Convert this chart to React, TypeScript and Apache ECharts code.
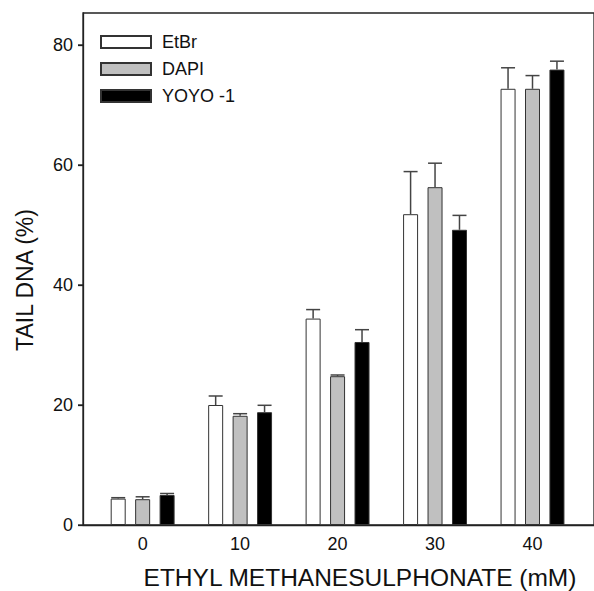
import React, { useEffect, useRef } from "react";
import * as echarts from "echarts";

const categories = [0, 10, 20, 30, 40];
const seriesNames = ["EtBr", "DAPI", "YOYO -1"];
const etbr = [4.4, 20.0, 34.4, 51.8, 72.7];
const etbrErr = [0.15, 1.5, 1.5, 7.1, 3.5];
const dapi = [4.3, 18.2, 24.8, 56.3, 72.7];
const dapiErr = [0.4, 0.35, 0.2, 4.0, 2.2];
const yoyo = [5.0, 18.8, 30.5, 49.2, 75.9];
const yoyoErr = [0.25, 1.15, 2.05, 2.4, 1.4];
const yTicks = [0, 20, 40, 60, 80];

const FONT = "'Liberation Sans', Arial, Helvetica, sans-serif";
const BAR_W = 15;
const BAR_GAP = 0.63;
const fills = ["#ffffff", "#c0c0c0", "#000000"];

export default function App() {
  const ref = useRef<HTMLDivElement>(null);
  useEffect(() => {
    if (!ref.current) return;
    const chart = echarts.init(ref.current, null, { renderer: "svg" });
    const values = [etbr, dapi, yoyo];
    const errs = [etbrErr, dapiErr, yoyoErr];
    const step = BAR_W * (1 + BAR_GAP);

    const barSeries = values.map((vals, i) => ({
      name: seriesNames[i],
      type: "bar",
      barWidth: BAR_W,
      barGap: BAR_GAP * 100 + "%",
      data: categories.map((c, j) => [c, vals[j]]),
      itemStyle: { color: fills[i], borderColor: "#333", borderWidth: 1 },
      z: 2,
    }));

    const errSeries = values.map((vals, i) => ({
      name: seriesNames[i] + " err",
      type: "custom",
      z: 3,
      data: categories.map((c, j) => [c, vals[j], errs[i][j]]),
      renderItem: (params: any, api: any) => {
        const x = api.value(0);
        const y = api.value(1);
        const e = api.value(2);
        const p0 = api.coord([x, y]);
        const p1 = api.coord([x, y + e]);
        const cx = p0[0] + (i - 1) * step;
        const half = 7;
        const style = { stroke: "#444", lineWidth: 1.5, fill: "none" };
        return {
          type: "group",
          children: [
            { type: "line", shape: { x1: cx, y1: p0[1], x2: cx, y2: p1[1] }, style },
            { type: "line", shape: { x1: cx - half, y1: p1[1], x2: cx + half, y2: p1[1] }, style },
          ],
        };
      },
    }));

    const tickSeries = {
      name: "y ticks",
      type: "custom",
      z: 4,
      clip: false,
      silent: true,
      data: yTicks.map((v) => [0, v]),
      renderItem: (params: any, api: any) => {
        const left = params.coordSys.x;
        const y = api.coord([0, api.value(1)])[1];
        return {
          type: "line",
          shape: { x1: left - 5, y1: y, x2: left, y2: y },
          style: { stroke: "#222", lineWidth: 1.3 },
        };
      },
    };

    chart.setOption({
      animation: false,
      backgroundColor: "#ffffff",
      textStyle: { fontFamily: FONT },
      grid: {
        left: 83,
        top: 13,
        right: -3,
        bottom: 66,
        show: true,
        borderColor: "#222",
        borderWidth: 1.3,
        backgroundColor: "transparent",
      },
      legend: {
        data: seriesNames,
        orient: "vertical",
        left: 95,
        top: 28,
        itemWidth: 50,
        itemHeight: 12,
        itemGap: 9,
        icon: "rect",
        textStyle: { fontSize: 18, color: "#111", fontFamily: FONT, padding: [0, 0, 0, 6] },
      },
      xAxis: {
        type: "value",
        position: "bottom",
        min: -6.12,
        max: 46.31,
        splitLine: { show: false },
        axisLine: { show: true, onZero: false, lineStyle: { color: "#222", width: 1.3 } },
        axisTick: { show: false },
        axisLabel: {
          customValues: categories,
          fontSize: 18,
          color: "#111",
          margin: 10,
          fontFamily: FONT,
        },
      },
      yAxis: {
        type: "value",
        position: "left",
        min: 0,
        max: 85.33,
        interval: 20,
        splitLine: { show: false },
        axisLine: { show: true, onZero: false, lineStyle: { color: "#222", width: 1.3 } },
        axisTick: { show: true, length: 5, customValues: yTicks, lineStyle: { color: "#222", width: 1.3 } },
        axisLabel: {
          customValues: yTicks,
          fontSize: 18,
          color: "#111",
          margin: 10,
          fontFamily: FONT,
        },
      },
      graphic: [
        {
          type: "text",
          x: 25,
          y: 280,
          rotation: Math.PI / 2,
          style: {
            text: "TAIL DNA (%)",
            fontSize: 23,
            fontFamily: FONT,
            fill: "#111",
            textAlign: "center",
            textVerticalAlign: "middle",
          },
        },
        {
          type: "text",
          x: 360,
          y: 577,
          style: {
            text: "ETHYL METHANESULPHONATE (mM)",
            fontSize: 24.5,
            fontFamily: FONT,
            fill: "#111",
            textAlign: "center",
            textVerticalAlign: "middle",
          },
        },
      ],
      series: [...barSeries, ...errSeries, tickSeries],
    });
    return () => chart.dispose();
  }, []);
  return (
    <div
      ref={ref}
      style={{ position: "fixed", left: 0, top: 0, width: 594, height: 591 }}
    />
  );
}
